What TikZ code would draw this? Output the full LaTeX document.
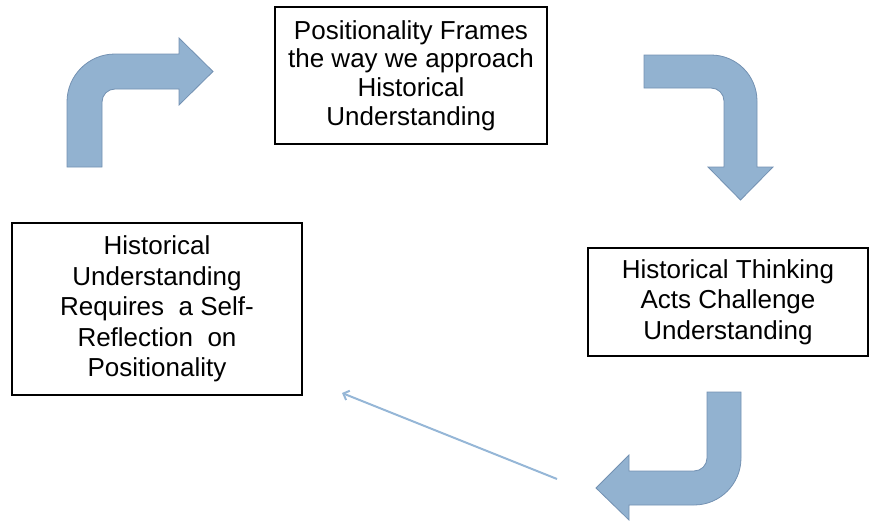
\documentclass[tikz,border=0pt]{standalone}
\usepackage{fontspec}
\setmainfont{Liberation Sans}
\usetikzlibrary{arrows.meta}
\definecolor{shaftblue}{RGB}{146,178,208}
\definecolor{shaftedge}{RGB}{115,145,178}
\definecolor{lineblue}{RGB}{150,183,215}

\begin{document}
\begin{tikzpicture}[x=1pt,y=-1pt,>={Straight Barb[length=5pt,width=10pt]},
                    font=\fontsize{26}{30.5}\selectfont]
  \tikzstyle{textbox}=[rectangle,draw=black,line width=1.4pt,fill=white,
                       align=center,inner sep=0pt]
  \tikzstyle{bentarrow}=[fill=shaftblue,draw=shaftedge,line width=0.8pt]
  \useasboundingbox (0,0) rectangle (870,522);

  \node[textbox,minimum width=272pt,minimum height=137pt,
        font=\fontsize{26}{28.6}\selectfont] (frames)
        at (411,75.5) {Positionality Frames\\the way we approach\\Historical\\Understanding};
  \node[textbox,minimum width=280pt,minimum height=108pt] (acts)
        at (728,302) {Historical Thinking\\Acts Challenge\\Understanding};
  \node[textbox,minimum width=290pt,minimum height=172pt] (reflect)
        at (157,309) {Historical\\Understanding\\Requires~~a Self-\\Reflection~~on\\Positionality};

  % bent arrow, up and to the right
  \draw[bentarrow] (67,167) -- (67,102) .. controls (67,75.5) and (88.5,54) .. (115,54)
    -- (179,54) -- (179,38) -- (213,71.5) -- (179,105) -- (179,89) -- (115,89)
    .. controls (107.8,89) and (102,94.8) .. (102,102) -- (102,167) -- cycle;
  % bent arrow, right and down
  \draw[bentarrow] (644,55) -- (711,55) .. controls (736.4,55) and (757,75.6) .. (757,101)
    -- (757,167) -- (773,167) -- (740.5,200) -- (708,167) -- (724,167) -- (724,101)
    .. controls (724,93.8) and (718.2,88) .. (711,88) -- (644,88) -- cycle;
  % bent arrow, down and to the left
  \draw[bentarrow] (707,392) -- (741,392) -- (741,458) .. controls (741,484) and (720,505) .. (694,505)
    -- (629,505) -- (629,520) -- (596,488) -- (629,455) -- (629,471) -- (694,471)
    .. controls (701.2,471) and (707,465.2) .. (707,458) -- cycle;

  \coordinate (tail) at (557,479);
  \coordinate (head) at (342,393);
  \draw[->,lineblue,line width=2pt] (tail) -- (head);
\end{tikzpicture}
\end{document}
